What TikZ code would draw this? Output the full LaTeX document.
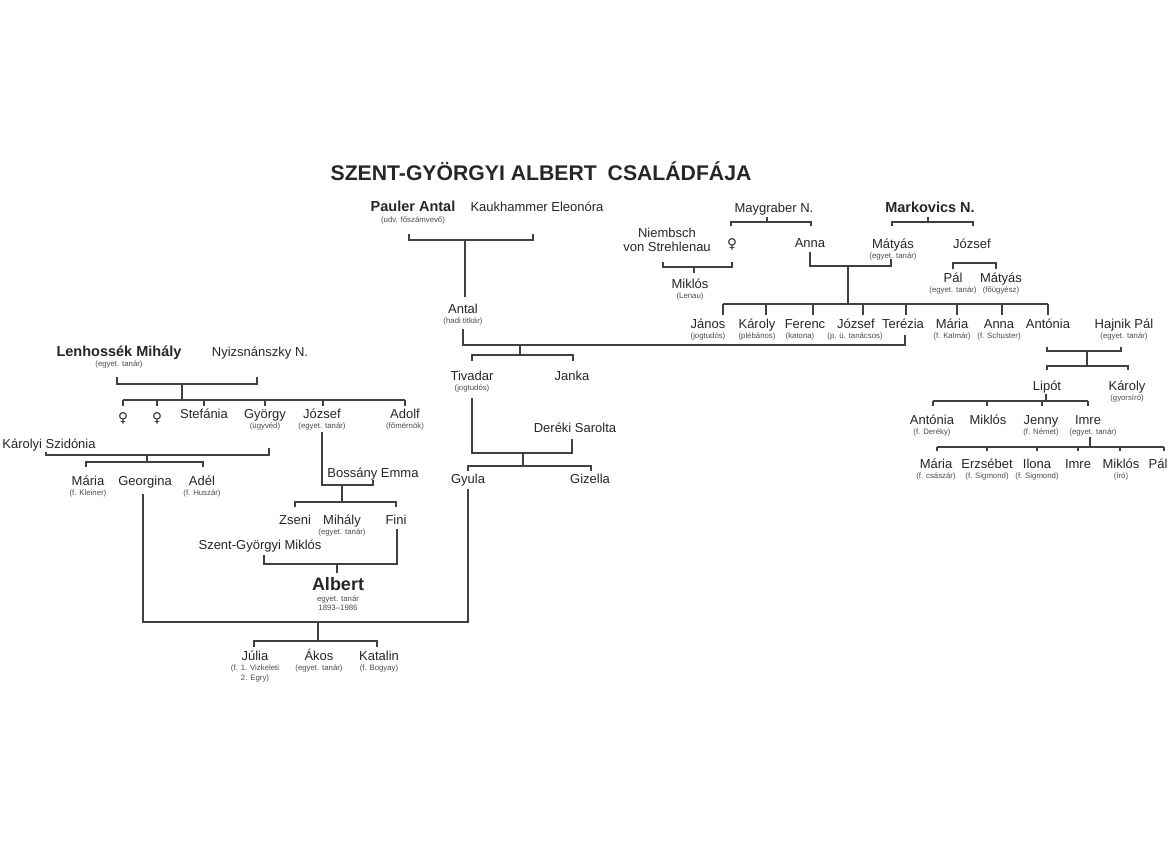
\documentclass[tikz,border=0pt]{standalone}
\usepackage{fontspec}
\setmainfont{Liberation Sans}
\newfontfamily\symfont{DejaVu Sans}
\usetikzlibrary{positioning}

\tikzset{
  person/.style={anchor=base, inner sep=0pt, text=black!85, font=\fontsize{13}{15}\selectfont},
  chief/.style={person, font=\fontsize{14.5}{16}\selectfont\bfseries},
  note/.style={anchor=base, inner sep=0pt, text=black!70, font=\fontsize{7.8}{9}\selectfont},
  girl/.style={person, font=\fontsize{13.5}{15}\symfont},
  link/.style={draw=black!75, line width=1.1pt},
}

\begin{document}
\begin{tikzpicture}[x=1pt, y=-1pt]
  \useasboundingbox (0,0) rectangle (1170,841);
  \fill[white] (0,0) rectangle (1170,841);

  \node[anchor=base, inner sep=0pt, text=black!85, font=\fontsize{21.2}{24}\selectfont\bfseries] (title)
    at (541,180) {SZENT-GYÖRGYI ALBERT\hspace{5pt} CSALÁDFÁJA};

  % Pauler side
  \node[chief] (pauler) at (413,211) {Pauler Antal};
  \node[note] (pauler-n) at ([yshift=-11pt]pauler.base) {(udv. főszámvevő)};
  \node[person] (kaukhammer) at (537,211) {Kaukhammer Eleonóra};
  \node[person] (antal) at (463,313) {Antal};
  \node[note] (antal-n) at ([yshift=-10pt]antal.base) {(hadi titkár)};
  \node[person] (tivadar) at (472,380) {Tivadar};
  \node[note] (tivadar-n) at ([yshift=-10pt]tivadar.base) {(jogtudós)};
  \node[person] (janka) at (572,380) {Janka};
  \node[person] (dereki) at (575,432) {Deréki Sarolta};
  \node[person] (gyula) at (468,483) {Gyula};
  \node[person] (gizella) at (590,483) {Gizella};

  \draw[link] (409,234) -- (409,240) -- (533,240) -- (533,234);
  \draw[link] (465,240) -- (465,297);
  \draw[link] (463,329) -- (463,345) -- (905,345) -- (905,335);
  \draw[link] (520,345) -- (520,355);
  \draw[link] (472,361) -- (472,355) -- (573,355) -- (573,361);
  \draw[link] (472,398) -- (472,453) -- (572,453) -- (572,439);
  \draw[link] (523,453) -- (523,466);
  \draw[link] (468,471) -- (468,466) -- (591,466) -- (591,471);
  \draw[link] (468,489) -- (468,622) -- (143,622) -- (143,494);

  % Lenhossék side
  \node[chief] (lenhossek) at (119,356) {Lenhossék Mihály};
  \node[note] (lenhossek-n) at ([yshift=-10pt]lenhossek.base) {(egyet. tanár)};
  \node[person] (nyizsnanszky) at (260,356) {Nyizsnánszky N.};
  \node[girl] (girl1) at (123,422) {♀};
  \node[girl] (girl2) at (157,422) {♀};
  \node[person] (stefania) at (204,418) {Stefánia};
  \node[person] (gyorgy) at (265,418) {György};
  \node[note] (gyorgy-n) at ([yshift=-10pt]gyorgy.base) {(ügyvéd)};
  \node[person] (jozsef) at (322,418) {József};
  \node[note] (jozsef-n) at ([yshift=-10pt]jozsef.base) {(egyet. tanár)};
  \node[person] (adolf) at (405,418) {Adolf};
  \node[note] (adolf-n) at ([yshift=-10pt]adolf.base) {(főmérnök)};
  \node[person] (karolyi) at (49,448) {Károlyi Szidónia};
  \node[person] (maria) at (88,485) {Mária};
  \node[note] (maria-n) at ([yshift=-10pt]maria.base) {(f. Kleiner)};
  \node[person] (georgina) at (145,485) {Georgina};
  \node[person] (adel) at (202,485) {Adél};
  \node[note] (adel-n) at ([yshift=-10pt]adel.base) {(f. Huszár)};
  \node[person] (bossany) at (373,477) {Bossány Emma};
  \node[person] (zseni) at (295,524) {Zseni};
  \node[person] (mihaly) at (342,524) {Mihály};
  \node[note] (mihaly-n) at ([yshift=-10pt]mihaly.base) {(egyet. tanár)};
  \node[person] (fini) at (396,524) {Fini};
  \node[person] (miklos) at (260,549) {Szent-Györgyi Miklós};

  \draw[link] (117,377) -- (117,384) -- (257,384) -- (257,377);
  \draw[link] (182,384) -- (182,400);
  \draw[link] (123,400) -- (405,400);
  \foreach \x in {123,157,204,265,323,405}
    \draw[link] (\x,400) -- (\x,406);
  \draw[link] (46,452) -- (46,455) -- (269,455) -- (269,448);
  \draw[link] (147,455) -- (147,462);
  \draw[link] (86,467) -- (86,462) -- (203,462) -- (203,467);
  \draw[link] (322,432) -- (322,485) -- (373,485) -- (373,480);
  \draw[link] (342,485) -- (342,502);
  \draw[link] (295,507) -- (295,502) -- (396,502) -- (396,507);
  \draw[link] (264,555) -- (264,564) -- (397,564) -- (397,529);
  \draw[link] (337,564) -- (337,573);

  % Albert and children
  \node[person, font=\fontsize{18}{20}\selectfont\bfseries] (albert) at (338,590) {Albert};
  \node[note] (albert-n) at ([yshift=-11pt]albert.base) {egyet. tanár};
  \node[note] (albert-d) at ([yshift=-20pt]albert.base) {1893–1986};
  \node[person] (julia) at (255,660) {Júlia};
  \node[note] (julia-n) at ([yshift=-10pt]julia.base) {(f. 1. Vizkeleti};
  \node[note] (julia-m) at ([yshift=-20pt]julia.base) {2. Egry)};
  \node[person] (akos) at (319,660) {Ákos};
  \node[note] (akos-n) at ([yshift=-10pt]akos.base) {(egyet. tanár)};
  \node[person] (katalin) at (379,660) {Katalin};
  \node[note] (katalin-n) at ([yshift=-10pt]katalin.base) {(f. Bogyay)};

  \draw[link] (318,622) -- (318,641);
  \draw[link] (254,647) -- (254,641) -- (377,641) -- (377,647);

  % Lenau / Maygraber / Markovics
  \node[person] (maygraber) at (774,212) {Maygraber N.};
  \node[person, align=center, anchor=center] (niembsch) at (667,240) {Niembsch\\[-1pt]von Strehlenau};
  \node[girl] (girl3) at (732,248) {♀};
  \node[person] (anna) at (810,247) {Anna};
  \node[person] (lenau) at (690,288) {Miklós};
  \node[note] (lenau-n) at ([yshift=-10pt]lenau.base) {(Lenau)};
  \node[chief] (markovics) at (930,212) {Markovics N.};
  \node[person] (matyas) at (893,248) {Mátyás};
  \node[note] (matyas-n) at ([yshift=-10pt]matyas.base) {(egyet. tanár)};
  \node[person] (jozsefm) at (972,248) {József};
  \node[person] (pal) at (953,282) {Pál};
  \node[note] (pal-n) at ([yshift=-10pt]pal.base) {(egyet. tanár)};
  \node[person] (matyas2) at (1001,282) {Mátyás};
  \node[note] (matyas2-n) at ([yshift=-10pt]matyas2.base) {(főügyész)};

  \draw[link] (767,217) -- (767,222);
  \draw[link] (731,226) -- (731,222) -- (811,222) -- (811,226);
  \draw[link] (663,262) -- (663,267) -- (732,267) -- (732,262);
  \draw[link] (694,267) -- (694,273);
  \draw[link] (928,217) -- (928,222);
  \draw[link] (892,226) -- (892,222) -- (973,222) -- (973,226);
  \draw[link] (953,269) -- (953,263) -- (996,263) -- (996,269);
  \draw[link] (810,252) -- (810,266) -- (891,266) -- (891,259);
  \draw[link] (848,266) -- (848,304);
  \draw[link] (723,304) -- (1048,304);
  \foreach \x in {723,766,813,863,906,957,1002,1048}
    \draw[link] (\x,304) -- (\x,315);

  % Markovics children
  \node[person] (janos) at (708,328) {János};
  \node[note] (janos-n) at ([yshift=-10pt]janos.base) {(jogtudós)};
  \node[person] (karoly) at (757,328) {Károly};
  \node[note] (karoly-n) at ([yshift=-10pt]karoly.base) {(plébános)};
  \node[person] (ferenc) at (805,328) {Ferenc};
  \node[note] (ferenc-n) at ([xshift=-5pt,yshift=-10pt]ferenc.base) {(katona)};
  \node[person] (jozsefk) at (856,328) {József};
  \node[note] (jozsefk-n) at ([xshift=-1pt,yshift=-10pt]jozsefk.base) {(p. ü. tanácsos)};
  \node[person] (terezia) at (903,328) {Terézia};
  \node[person] (mariak) at (952,328) {Mária};
  \node[note] (mariak-n) at ([yshift=-10pt]mariak.base) {(f. Kalmár)};
  \node[person] (annak) at (999,328) {Anna};
  \node[note] (annak-n) at ([yshift=-10pt]annak.base) {(f. Schuster)};
  \node[person] (antonia) at (1048,328) {Antónia};
  \node[person] (hajnik) at (1124,328) {Hajnik Pál};
  \node[note] (hajnik-n) at ([yshift=-10pt]hajnik.base) {(egyet. tanár)};

  % Hajnik side
  \node[person] (lipot) at (1047,390) {Lipót};
  \node[person] (karolyh) at (1127,390) {Károly};
  \node[note] (karolyh-n) at ([yshift=-10pt]karolyh.base) {(gyorsíró)};
  \node[person] (antoniah) at (932,424) {Antónia};
  \node[note] (antoniah-n) at ([yshift=-10pt]antoniah.base) {(f. Deréky)};
  \node[person] (miklosh) at (988,424) {Miklós};
  \node[person] (jenny) at (1041,424) {Jenny};
  \node[note] (jenny-n) at ([yshift=-10pt]jenny.base) {(f. Német)};
  \node[person] (imre) at (1088,424) {Imre};
  \node[note] (imre-n) at ([xshift=5pt,yshift=-10pt]imre.base) {(egyet. tanár)};
  \node[person] (mariah) at (936,468) {Mária};
  \node[note] (mariah-n) at ([yshift=-10pt]mariah.base) {(f. császár)};
  \node[person] (erzsebet) at (987,468) {Erzsébet};
  \node[note] (erzsebet-n) at ([yshift=-10pt]erzsebet.base) {(f. Sigmond)};
  \node[person] (ilona) at (1037,468) {Ilona};
  \node[note] (ilona-n) at ([yshift=-10pt]ilona.base) {(f. Sigmond)};
  \node[person] (imreh) at (1078,468) {Imre};
  \node[person] (miklosi) at (1121,468) {Miklós};
  \node[note] (miklosi-n) at ([yshift=-10pt]miklosi.base) {(író)};
  \node[person] (palh) at (1158,468) {Pál};

  \draw[link] (1047,347) -- (1047,351) -- (1121,351) -- (1121,347);
  \draw[link] (1087,351) -- (1087,366);
  \draw[link] (1047,370) -- (1047,366) -- (1128,366) -- (1128,370);
  \draw[link] (1046,394) -- (1046,401);
  \draw[link] (933,401) -- (1088,401);
  \foreach \x in {933,987,1042,1088}
    \draw[link] (\x,401) -- (\x,406);
  \draw[link] (1090,437) -- (1090,447);
  \draw[link] (937,447) -- (1164,447);
  \foreach \x in {937,987,1037,1078,1120,1164}
    \draw[link] (\x,447) -- (\x,451);
\end{tikzpicture}
\end{document}
